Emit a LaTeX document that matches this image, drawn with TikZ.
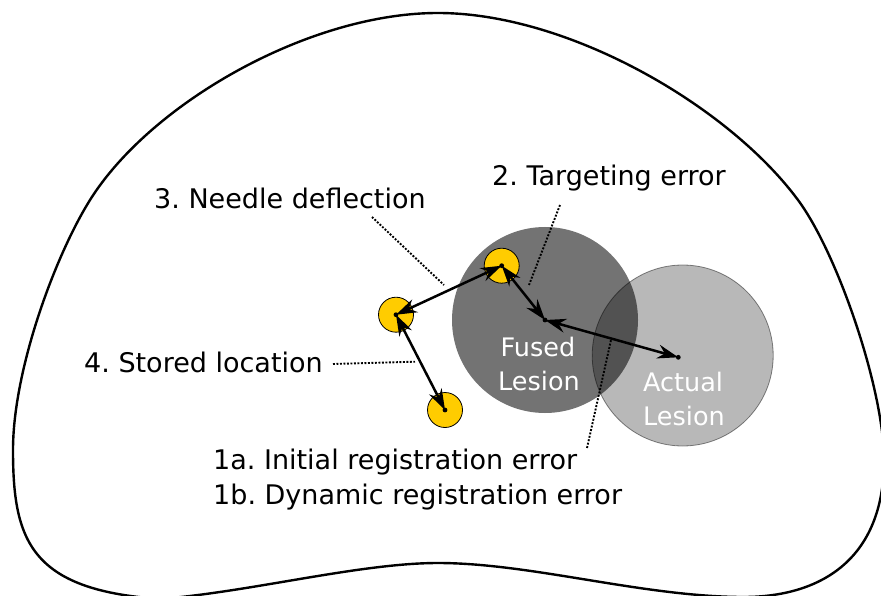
\documentclass[tikz,border=0pt]{standalone}
\usepackage{fontspec}
\setmainfont{DejaVu Sans}
\usetikzlibrary{arrows.meta}
\definecolor{fusedgray}{RGB}{115,115,115}
\definecolor{needleyellow}{RGB}{255,204,0}
\frenchspacing
\begin{document}
\begin{tikzpicture}[x=1pt,y=-1pt,
  outline/.style={line width=2.4pt, line join=round},
  fusedc/.style={circle, fill=fusedgray, minimum size=186pt, inner sep=0pt},
  actualc/.style={circle, fill=black, fill opacity=0.28, draw=black, draw opacity=0.45, line width=0.8pt, minimum size=181pt, inner sep=0pt},
  needlec/.style={circle, fill=needleyellow, draw=black, line width=0.8pt, minimum size=35pt, inner sep=0pt},
  dotpt/.style={circle, fill=black, minimum size=4.8pt, inner sep=0pt},
  err/.style={{Stealth[length=21pt,width=14pt,inset=7pt]}-{Stealth[length=21pt,width=14pt,inset=7pt]}, line width=2.5pt},
  leader/.style={line width=1.9pt, dash pattern=on 1.9pt off 1.6pt},
  lbl/.style={anchor=base west, inner sep=0pt, font=\fontsize{27}{32}\selectfont},
  lesiontxt/.style={anchor=base, text=white, inner sep=0pt, font=\fontsize{25.5}{34}\selectfont}
]
\useasboundingbox (0,0) rectangle (881,596);
\fill[white] (0,0) rectangle (881,596);
% outline of the organ
\draw[outline] (438,13)
  .. controls (308,13) and (150,104) .. (90,200)
  .. controls (55,256) and (13,370) .. (13,450)
  .. controls (13,540) and (30,590) .. (160,599)
  .. controls (250,592) and (360,563) .. (438,563)
  .. controls (530,563) and (640,596) .. (740,597)
  .. controls (820,598) and (884,560) .. (884,460)
  .. controls (884,390) and (838,254) .. (798,200)
  .. controls (728,105.5) and (568,13) .. (438,13) -- cycle;
% lesions
\node[fusedc] (F) at (545,320) {};
\node[actualc] (A) at (682.7,355.5) {};
\coordinate (adot) at (678.3,357.3);
% needle positions
\node[needlec] (Y1) at (501.7,265.7) {};
\node[needlec] (Y2) at (396,314.7) {};
\node[needlec] (Y3) at (445,410) {};
% lesion texts
\node[lesiontxt] (fl1) at (538,356.7) {Fused};
\node[lesiontxt] (fl2) at (539,390.7) {Lesion};
\node[lesiontxt] (al1) at (683,391) {Actual};
\node[lesiontxt] (al2) at (684,425) {Lesion};
% error arrows
\draw[err] (F.center) -- (adot);
\draw[err] (Y1.center) -- (F.center);
\draw[err] (Y1.center) -- (Y2.center);
\draw[err] (Y2.center) -- (Y3.center);
\node[dotpt] (dF) at (F.center) {};
\node[dotpt] (dA) at (adot) {};
\node[dotpt] (d1) at (Y1.center) {};
\node[dotpt] (d2) at (Y2.center) {};
\node[dotpt] (d3) at (Y3.center) {};
% labels
\node[lbl] (t3) at (154,209) {3. Needle deflection};
\node[lbl] (t2) at (492,186) {2. Targeting error};
\node[lbl] (t4) at (84,372) {4. Stored location};
\node[lbl] (t1a) at (213,469.3) {1a. Initial registration error};
\node[lbl] (t1b) at (213,504) {1b. Dynamic registration error};
% leaders
\coordinate (l3a) at (372,217); \coordinate (l3b) at (444,285);
\coordinate (l2a) at (560,205); \coordinate (l2b) at (529,285);
\coordinate (l4a) at (333,364); \coordinate (l4b) at (415,361.7);
\coordinate (l1a) at (587,448); \coordinate (l1b) at (611,340);
\draw[leader] (l3a) -- (l3b);
\draw[leader] (l2a) -- (l2b);
\draw[leader] (l4a) -- (l4b);
\draw[leader] (l1a) -- (l1b);
\end{tikzpicture}
\end{document}
